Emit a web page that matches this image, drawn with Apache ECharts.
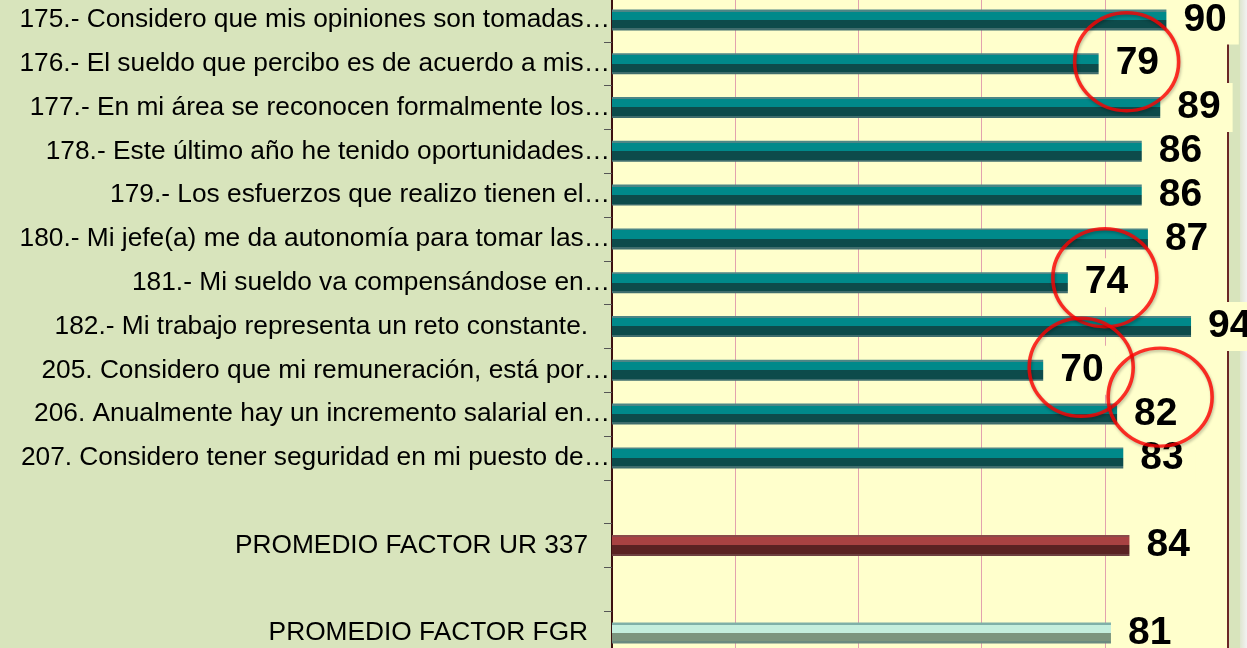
<!DOCTYPE html>
<html>
<head>
<meta charset="utf-8">
<title>Reactivos</title>
<script src="https://cdn.jsdelivr.net/npm/echarts@6/dist/echarts.min.js"></script>
<style>
  html, body { margin: 0; padding: 0; background: #d8e4bc; }
  #main { width: 1247px; height: 648px; }
</style>
</head>
<body>
<div id="main"></div>
<script>
// reactivos (etiquetas tal como salen, recortadas)
var categorias = [
    '175.- Considero que mis opiniones son tomadas…',
    '176.- El sueldo que percibo es de acuerdo a mis…',
    '177.- En mi área se reconocen formalmente los…',
    '178.- Este último año he tenido oportunidades…',
    '179.- Los esfuerzos que realizo tienen el…',
    '180.- Mi jefe(a) me da autonomía para tomar las…',
    '181.- Mi sueldo va compensándose en…',
    '182.- Mi trabajo representa un reto constante.   ',
    '205. Considero que mi remuneración, está por…',
    '206. Anualmente hay un incremento salarial en…',
    '207. Considero tener seguridad en mi puesto de…',
    ' ',
    'PROMEDIO FACTOR UR 337   ',
    '  ',
    'PROMEDIO FACTOR FGR   '
];
var valores = [90, 79, 89, 86, 86, 87, 74, 94, 70, 82, 83];
var promedioUR = 84;
var promedioFGR = 81;
// reactivos marcados con circulo rojo
var marcados = [1, 6, 8, 9];

// colores tipo "bisel" de excel
function bisel(borde, claro, oscuro, borde2) {
    return new echarts.graphic.LinearGradient(0, 0, 0, 1, [
        { offset: 0, color: borde }, { offset: 0.1, color: borde },
        { offset: 0.1, color: claro }, { offset: 0.5, color: claro },
        { offset: 0.5, color: oscuro }, { offset: 0.9, color: oscuro },
        { offset: 0.9, color: borde2 }, { offset: 1, color: borde2 }
    ]);
}
var colorReactivo = bisel('#4d8686', '#00898a', '#0d4b4b', '#3f6d6d');
var colorUR = bisel('#8a4a4a', '#a84242', '#5a2222', '#6e4040');
var colorFGR = bisel('#7fb0a8', '#c4eedd', '#7c957e', '#6a8a80');

var datosBarras = [];
for (var i = 0; i < valores.length; i++) {
    datosBarras.push({ value: valores[i], itemStyle: { color: colorReactivo } });
}
datosBarras.push(null);
datosBarras.push({ value: promedioUR, itemStyle: { color: colorUR } });
datosBarras.push(null);
datosBarras.push({ value: promedioFGR, itemStyle: { color: colorFGR } });

// circulos alrededor de las etiquetas
var desfaseCirculo = [[28, -2], [37, -5], [38, -3], [43, -17]];
var datosCirculos = [];
for (var k = 0; k < marcados.length; k++) {
    datosCirculos.push({
        value: [valores[marcados[k]], marcados[k]],
        symbolOffset: desfaseCirculo[k]
    });
}

var oChart = echarts.init(document.getElementById('main'));
var opt = {
    backgroundColor: '#d8e4bc',
    animation: false,
    textStyle: { fontFamily: 'Liberation Sans' },
    grid: {
        show: true,
        left: 612,
        right: 19,
        top: -2,
        bottom: -7,
        outerBoundsMode: 'none',
        containLabel: false,
        backgroundColor: '#ffffcc',
        borderColor: '#6b2626',
        borderWidth: 2
    },
    xAxis: {
        type: 'value',
        min: 0,
        max: 100,
        interval: 20,
        axisLabel: { show: false },
        axisLine: { show: false },
        axisTick: { show: false },
        splitLine: {
            show: true,
            showMinLine: false,
            showMaxLine: false,
            lineStyle: { color: '#e2a2ae', width: 1 }
        }
    },
    yAxis: {
        type: 'category',
        inverse: true,
        data: categorias,
        axisLine: { show: true, lineStyle: { color: '#3d1010', width: 2 } },
        axisTick: { show: true, length: 8, lineStyle: { color: '#555555' } },
        axisLabel: {
            color: '#000',
            fontSize: 26.3,
            fontFamily: 'Liberation Sans',
            margin: 2
        }
    },
    series: [{
        type: 'bar',
        barWidth: 21,
        data: datosBarras,
        label: {
            show: true,
            position: 'right',
            distance: 12,
            color: '#000',
            fontSize: 39,
            fontWeight: 'bold',
            fontFamily: 'Liberation Sans',
            backgroundColor: '#ffffcc',
            padding: [5, 12, 5, 5]
        }
    }, {
        type: 'scatter',
        symbol: 'circle',
        symbolSize: [104, 98],
        z: 5,
        silent: true,
        itemStyle: {
            color: 'rgba(0,0,0,0)',
            borderColor: '#ff0000',
            borderWidth: 3.5,
            shadowBlur: 3,
            shadowColor: 'rgba(0,0,0,0.3)',
            shadowOffsetX: 1,
            shadowOffsetY: 2
        },
        data: datosCirculos
    }],
    graphic: [{
        type: 'rect',
        right: 0,
        top: 0,
        shape: { width: 7, height: 648 },
        style: {
            fill: new echarts.graphic.LinearGradient(0, 0, 1, 0, [
                { offset: 0, color: '#dfe6d0' }, { offset: 1, color: '#f2f2f2' }
            ])
        },
        z: -1
    }]
};
oChart.setOption(opt);
</script>
</body>
</html>
